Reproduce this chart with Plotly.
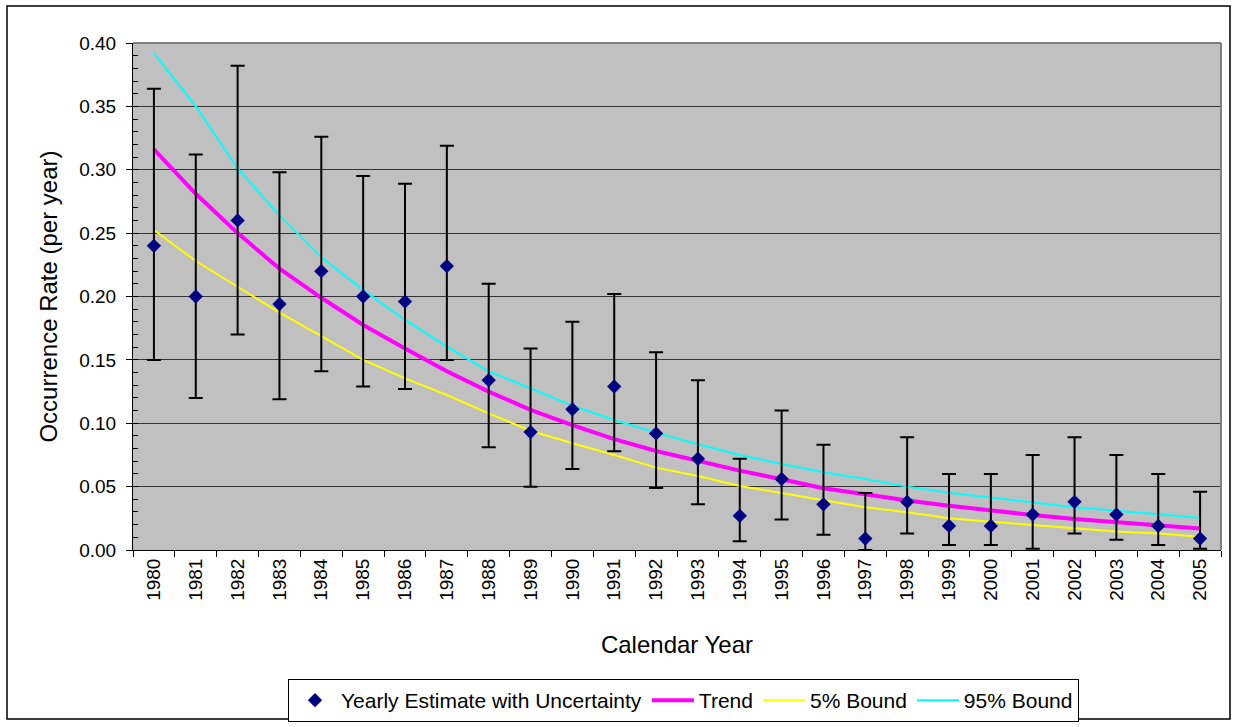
import plotly.graph_objects as go

years = [str(y) for y in range(1980, 2006)]

estimate = [0.240, 0.200, 0.260, 0.194, 0.220, 0.200, 0.196, 0.224, 0.134, 0.093,
            0.111, 0.129, 0.092, 0.072, 0.027, 0.056, 0.036, 0.009, 0.038, 0.019,
            0.019, 0.028, 0.038, 0.028, 0.019, 0.009]
upper = [0.364, 0.312, 0.382, 0.298, 0.326, 0.295, 0.289, 0.319, 0.210, 0.159,
         0.180, 0.202, 0.156, 0.134, 0.072, 0.110, 0.083, 0.045, 0.089, 0.060,
         0.060, 0.075, 0.089, 0.075, 0.060, 0.046]
lower = [0.150, 0.120, 0.170, 0.119, 0.141, 0.129, 0.127, 0.150, 0.081, 0.050,
         0.064, 0.078, 0.049, 0.036, 0.007, 0.024, 0.012, 0.000, 0.013, 0.004,
         0.004, 0.001, 0.013, 0.008, 0.004, 0.001]
trend = [0.316, 0.281, 0.250, 0.222, 0.199, 0.1775, 0.159, 0.141, 0.125, 0.1105,
         0.0986, 0.0875, 0.0781, 0.0702, 0.0626, 0.0558, 0.0487, 0.044, 0.039, 0.035,
         0.031, 0.0276, 0.0245, 0.0218, 0.0197, 0.017]
bound5 = [0.2525, 0.228, 0.2077, 0.1872, 0.1688, 0.150, 0.1354, 0.1223, 0.1078, 0.0941,
          0.0842, 0.075, 0.065, 0.0584, 0.0505, 0.0447, 0.0394, 0.0337, 0.0297, 0.025,
          0.0223, 0.0197, 0.017, 0.0145, 0.013, 0.0105]
bound95 = [0.392, 0.350, 0.301, 0.264, 0.231, 0.205, 0.1815, 0.1604, 0.141, 0.1275,
           0.1139, 0.1026, 0.0926, 0.0834, 0.075, 0.0678, 0.0613, 0.056, 0.050, 0.0452,
           0.0415, 0.0376, 0.0337, 0.031, 0.028, 0.0255]

err_plus = [u - e for u, e in zip(upper, estimate)]
err_minus = [e - l for e, l in zip(estimate, lower)]

FONT = "Liberation Sans, Arial, sans-serif"

fig = go.Figure()
fig.add_trace(go.Scatter(x=years, y=trend, mode="lines", name="Trend",
                         line=dict(color="#FF00FF", width=4), legendrank=2))
fig.add_trace(go.Scatter(x=years, y=bound5, mode="lines", name="5% Bound",
                         line=dict(color="#FFFF00", width=2), legendrank=3))
fig.add_trace(go.Scatter(x=years, y=bound95, mode="lines", name="95% Bound",
                         line=dict(color="#00FFFF", width=2), legendrank=4))
fig.add_trace(go.Scatter(
    x=years, y=estimate, mode="markers", name="Yearly Estimate with Uncertainty",
    marker=dict(symbol="diamond", size=11, color="#000080"),
    error_y=dict(type="data", array=err_plus, arrayminus=err_minus,
                 color="black", thickness=2, width=7),
    legendrank=1))

fig.update_layout(
    width=1236, height=727,
    margin=dict(l=133, r=15, t=43, b=177),
    paper_bgcolor="white",
    plot_bgcolor="#C0C0C0",
    font=dict(family=FONT, size=19, color="black"),
    showlegend=True,
    legend=dict(orientation="h", x=0.553, xref="container", xanchor="center",
                y=(727 - 679) / 727, yref="container", yanchor="top",
                bgcolor="white", bordercolor="black", borderwidth=1,
                font=dict(size=21), traceorder="normal", itemwidth=42),
    xaxis=dict(
        type="category", tickangle=-90, tickson="boundaries",
        range=[-0.5, 25.5], autorange=False, automargin=False,
        ticks="outside", ticklen=6, tickcolor="black",
        showline=True, linecolor="black", linewidth=1,
        showgrid=False, tickfont=dict(size=19),
        title=dict(text="Calendar Year", font=dict(size=24), standoff=36),
    ),
    yaxis=dict(
        range=[0, 0.4], autorange=False, automargin=False, dtick=0.05, tickformat=".2f",
        ticks="outside", ticklen=6, tickcolor="black", ticklabelstandoff=6,
        minor=dict(dtick=0.01, ticks="inside", ticklen=5, tickcolor="black", showgrid=False),
        showline=True, linecolor="black", linewidth=1,
        showgrid=True, gridcolor="#333333", gridwidth=1,
        zeroline=False, tickfont=dict(size=19),
        title=dict(text="Occurrence Rate (per year)", font=dict(size=24), standoff=14),
    ),
    shapes=[
        dict(type="line", xref="paper", yref="paper", x0=0, x1=1, y0=1, y1=1,
             line=dict(color="#808080", width=2)),
        dict(type="line", xref="paper", yref="paper", x0=1, x1=1, y0=0, y1=1,
             line=dict(color="#808080", width=2)),
        dict(type="rect", xref="paper", yref="paper",
             x0=(7 - 133) / 1088, x1=(1230 - 133) / 1088,
             y0=(550 - 719) / 507, y1=(550 - 6) / 507,
             line=dict(color="black", width=1.5), layer="below"),
    ],
)

fig.write_html("out.html")
